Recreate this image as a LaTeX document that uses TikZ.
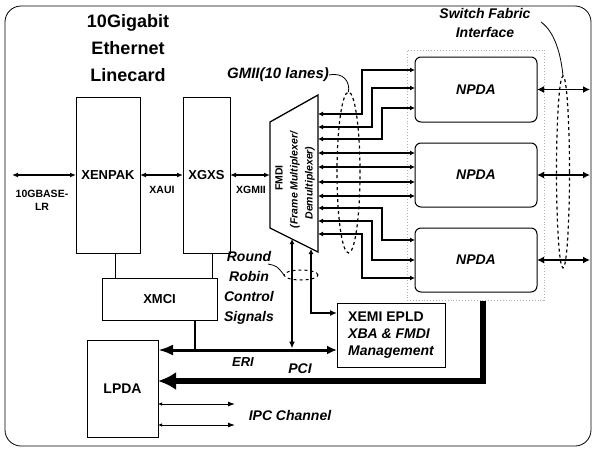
\documentclass[tikz,border=0pt]{standalone}
\usepackage{fontspec}
\setmainfont{Liberation Sans}
\usetikzlibrary{arrows.meta,shapes.geometric}
\begin{document}
\begin{tikzpicture}[x=1pt,y=-1pt]
\tikzset{
 box/.style={draw, line width=1pt, inner sep=0pt, outer sep=0pt, font=\bfseries\fontsize{13}{13}\selectfont},
 npda/.style={box, rounded corners=6pt, minimum width=122pt, minimum height=64pt, font=\bfseries\itshape\fontsize{14}{14}\selectfont},
 small/.style={font=\bfseries\fontsize{10.5}{13}\selectfont, inner sep=0pt, align=center},
 ital/.style={font=\bfseries\itshape\fontsize{14}{20}\selectfont, inner sep=0pt, align=center},
 lane/.style={line width=1.6pt, {Latex[length=5pt,width=5pt]}-{Latex[length=5pt,width=5pt]}},
 sidearr/.style={line width=1.2pt, {Latex[length=6pt,width=5pt]}-{Latex[length=6pt,width=5pt]}},
 outarr/.style={line width=1.8pt, {Latex[length=7pt,width=7pt]}-{Latex[length=7pt,width=7pt]}},
 thinarr/.style={line width=0.9pt, {Latex[length=4pt,width=3.5pt]}-{Latex[length=7pt,width=5pt]}},
 vert/.style={line width=1.4pt, {Latex[length=5pt,width=5pt]}-{Latex[length=7pt,width=6pt]}},
 eri/.style={line width=3pt, {Latex[length=15pt,width=11pt]}-{Latex[length=10pt,width=9pt]}},
 pci/.style={line width=6pt, line join=miter, -{Latex[length=18pt,width=18pt]}},
 conn/.style={line width=0.8pt},
 dashell/.style={draw, dashed, line width=1.2pt, ellipse, inner sep=0pt, outer sep=0pt},
}
\useasboundingbox (0,0) rectangle (594,450);
\draw[line width=0.8pt, rounded corners=16pt] (5,6) rectangle (591,446);

% title
\node[font=\bfseries\fontsize{18}{27}\selectfont, align=center] (ttl) at (128,48) {10Gigabit\\Ethernet\\Linecard};

% boxes
\node[box, minimum width=64pt, minimum height=156pt] (xen) at (108,175) {XENPAK};
\node[box, minimum width=47pt, minimum height=156pt] (xgxs) at (206.5,175) {XGXS};
\node[box, minimum width=115pt, minimum height=42pt] (xmci) at (159.5,299) {XMCI};
\node[box, minimum width=71pt, minimum height=97pt, font=\bfseries\fontsize{14}{14}\selectfont] (lpda) at (122.5,388.5) {LPDA};
\node[box, minimum width=108pt, minimum height=64pt, align=left, font=\bfseries\fontsize{14}{17}\selectfont] (xemi) at (391,335) {XEMI EPLD\\{\itshape XBA \& FMDI}\\{\itshape Management}};

\node[draw=gray!60, dotted, line width=0.9pt, minimum width=137pt, minimum height=250pt, inner sep=0pt] (sfi) at (475.5,175) {};
\node[npda, minimum height=65pt] (n1) at (476,89.5) {NPDA};
\node[npda] (n2) at (476,175) {NPDA};
\node[npda] (n3) at (476,260) {NPDA};

% FMDI trapezoid
\coordinate (t1) at (270,122);
\coordinate (t2) at (318,95);
\coordinate (t3) at (318,252);
\coordinate (t4) at (270,228);
\draw[line width=1.3pt] (t1) -- (t2) -- (t3) -- (t4) -- cycle;
\node[rotate=90, font=\bfseries\fontsize{10.5}{10.5}\selectfont, inner sep=0pt] (fmdi) at (279,178) {FMDI};
\node[rotate=90, font=\bfseries\itshape\fontsize{10.5}{10.5}\selectfont, inner sep=0pt] (fm1) at (295,180) {(Frame Multiplexer/};
\node[rotate=90, font=\bfseries\itshape\fontsize{10.5}{10.5}\selectfont, inner sep=0pt] (fm2) at (310,183) {Demultiplexer)};

% left side arrows
\coordinate (w10g) at (12,175);
\coordinate (fmdiL) at (270,175);
\draw[sidearr] (w10g) -- (xen.west);
\draw[sidearr] (xen.east) -- (xgxs.west);
\draw[sidearr] (xgxs.east) -- (fmdiL);
\node[small] (l10g) at (42,200) {10GBASE-\\LR};
\node[small] (lxaui) at (162,190) {XAUI};
\node[small] (lxgmii) at (251,190) {XGMII};

% lanes
\foreach \i/\y in {1/114,2/127,3/139,4/153,5/167,6/182,7/196,8/208,9/221,10/234}
  \coordinate (L\i) at (318,\y);
\coordinate (i1) at (415,70);
\coordinate (i2) at (415,88);
\coordinate (i3) at (415,108);
\coordinate (i8) at (415,240);
\coordinate (i9) at (415,260);
\coordinate (i10) at (415,278);
\draw[lane] (L1) -- (362,114) |- (i1);
\draw[lane] (L2) -- (372,127) |- (i2);
\draw[lane] (L3) -- (382,139) |- (i3);
\draw[lane] (L4) -- (n2.west |- L4);
\draw[lane] (L5) -- (n2.west |- L5);
\draw[lane] (L6) -- (n2.west |- L6);
\draw[lane] (L7) -- (n2.west |- L7);
\draw[lane] (L8) -- (382,208) |- (i8);
\draw[lane] (L9) -- (372,221) |- (i9);
\draw[lane] (L10) -- (362,234) |- (i10);

% outputs
\coordinate (o1) at (590,89.5);
\coordinate (o2) at (590,175);
\coordinate (o3) at (590,260);
\draw[outarr] (n1.east) -- (o1);
\draw[outarr] (n2.east) -- (o2);
\draw[outarr] (n3.east) -- (o3);

% ellipses and labels
\node[dashell, minimum width=23pt, minimum height=161pt] (gell) at (348.5,172.5) {};
\node[dashell, minimum width=13pt, minimum height=192pt] (sell) at (563,172) {};
\node[dashell, line width=1pt, minimum width=34pt, minimum height=10pt] (rell) at (301,275) {};

\node[ital, font=\bfseries\itshape\fontsize{15}{15}\selectfont] (gmiil) at (278,75) {GMII(10 lanes)};
\draw[conn] (gmiil.east) .. controls (344,72) and (350,82) .. (gell.north);
\node[ital, font=\bfseries\itshape\fontsize{14}{19}\selectfont] (sfil) at (485,23) {Switch Fabric\\Interface};
\coordinate (sfs) at (541,22);
\draw[conn] (sfs) .. controls (555,32) and (561,55) .. (sell.north);
\node[ital] (rrl) at (249,288) {Round\\Robin\\Control\\Signals};
\coordinate (rrs) at (268,264);
\draw[conn] (rrs) .. controls (277,266) .. (rell.west);

% verticals from FMDI
\coordinate (v1t) at (292,239);
\coordinate (v1b) at (292,348.5);
\coordinate (v2t) at (311,249);
\draw[vert] (v1t) -- (v1b);
\draw[vert] (v2t) -- (311,313) -- (xemi.west |- 0,313);

% ERI bus
\draw[eri] (lpda.east |- 0,350) -- (xemi.west |- 0,350);
\draw[line width=2pt] (xmci.south -| 195,0) -- (195,350);
\node[ital, font=\bfseries\itshape\fontsize{13}{13}\selectfont] (eril) at (243,362) {ERI};

% PCI bus
\coordinate (pcit) at (483,301);
\draw[pci] (pcit) -- (483,381) -- (lpda.east |- 0,381);
\node[ital] (pcil) at (300,369) {PCI};

% XMCI links
\draw[conn] (xen.south -| 115,0) -- (xmci.north -| 115,0);
\draw[conn] (xgxs.south -| 212,0) -- (xmci.north -| 212,0);

% IPC channel
\coordinate (ipc1) at (235,404);
\coordinate (ipc2) at (235,425);
\draw[thinarr] (lpda.east |- ipc1) -- (ipc1);
\draw[thinarr] (lpda.east |- ipc2) -- (ipc2);
\node[ital] (ipcl) at (290,415) {IPC Channel};
\end{tikzpicture}
\end{document}
